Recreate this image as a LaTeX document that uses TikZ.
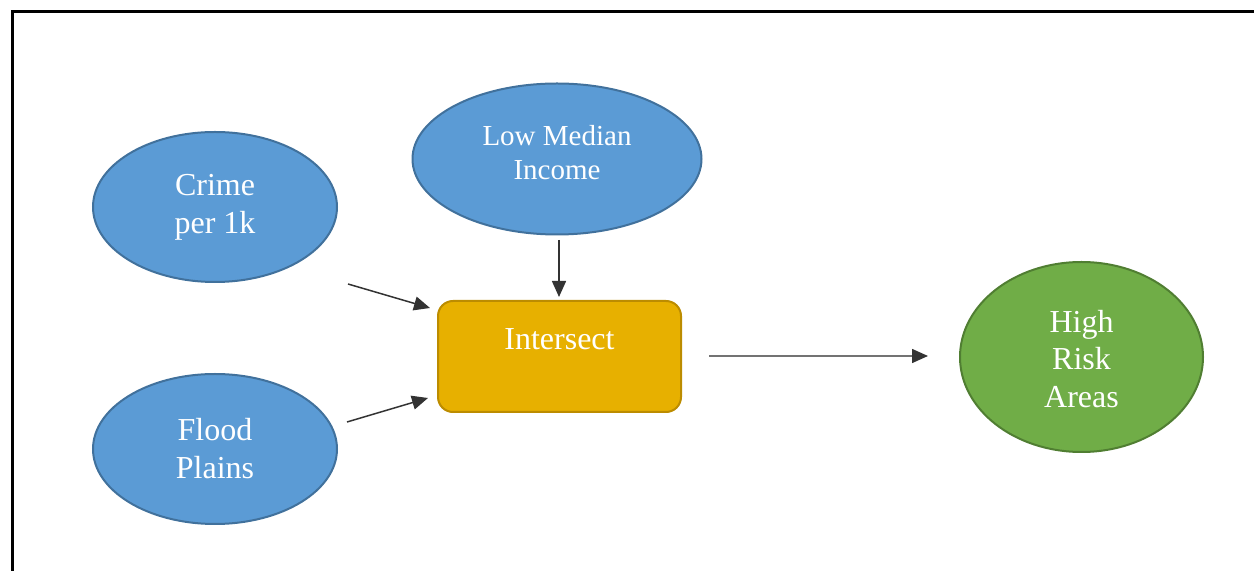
\documentclass[tikz,border=0pt]{standalone}
\usepackage{fontspec}
\setmainfont{Liberation Serif}
\usetikzlibrary{positioning,calc,shapes,arrows.meta}
\definecolor{layerfill}{HTML}{5B9BD5}
\definecolor{layerdraw}{HTML}{41719C}
\definecolor{opfill}{HTML}{E7B000}
\definecolor{opdraw}{HTML}{BC8C00}
\definecolor{outfill}{HTML}{70AD47}
\definecolor{outdraw}{HTML}{507E32}
\tikzset{
    modelflow/.style={
        x=0.5pt, y=-0.5pt,
        % Stile per layer di input (ellisse blu)
        layer/.style={draw=layerdraw, fill=layerfill, ellipse, align=center,
                      line width=1pt, inner sep=0pt, text=white,
                      font=\fontsize{16}{19}\selectfont},
        % Stile per operazione (rettangolo arrotondato)
        operation/.style={draw=opdraw, fill=opfill, rectangle, rounded corners=7.5pt,
                          line width=1pt, text=white, minimum width=121.5pt,
                          minimum height=55.5pt, text height=11pt, text depth=18pt,
                          font=\fontsize{16}{19}\selectfont},
        % Stile per risultato (ellisse verde)
        output/.style={draw=outdraw, fill=outfill, ellipse, align=center,
                       line width=1pt, inner sep=0pt, text=white,
                       font=\fontsize{16}{18.75}\selectfont},
        flow/.style={draw=black!80, line width=0.75pt,
                     -{Triangle[length=8pt,width=7pt,color=black!80]}}
    }
}
\begin{document}
\begin{tikzpicture}[modelflow]
    \useasboundingbox (0,0) rectangle (1254,571);
    \draw[line width=1.5pt] (12,571) -- (12,12) -- (1254,12);

    \node[layer, minimum width=122pt, minimum height=75pt] (crime) at (215,207) {Crime\\per 1k};
    \node[layer, minimum width=122pt, minimum height=75pt] (flood) at (215,449) {Flood\\Plains};
    \node[layer, minimum width=144.5pt, minimum height=75.5pt,
          font=\fontsize{14.5}{17}\selectfont] (income) at (557,159)
          {\raisebox{-2.1pt}[0pt][0pt]{\begin{tabular}{@{}c@{}}Low Median\\Income\end{tabular}}};
    \node[operation] (inter) at (559.5,356.5) {Intersect};
    \node[output, minimum width=121.5pt, minimum height=95pt] (risk) at (1081.5,357)
          {\raisebox{-6.9pt}[0pt][0pt]{\begin{tabular}{@{}c@{}}High\\Risk\\Areas\end{tabular}}};

    \coordinate (crimeout) at (348,284);
    \coordinate (floodout) at (347,422);
    \coordinate (incomeout) at (559,240);
    \coordinate (interin1) at (430,308);
    \coordinate (interin2) at (428,398);
    \coordinate (interin3) at (559,297);
    \coordinate (interout) at (709,356);
    \coordinate (riskin) at (928,356);

    \draw[flow] (crimeout) -- (interin1);
    \draw[flow] (floodout) -- (interin2);
    \draw[flow] (incomeout) -- (interin3);
    \draw[flow, draw=black!55] (interout) -- (riskin);
\end{tikzpicture}
\end{document}
